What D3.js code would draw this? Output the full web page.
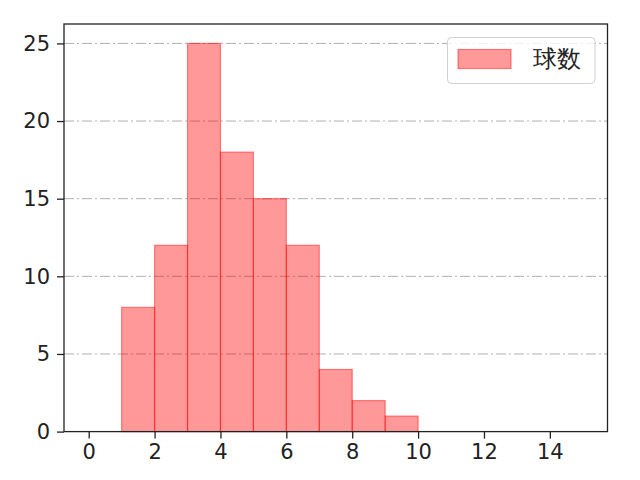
<!DOCTYPE html>
<html><head><meta charset="utf-8">
<script src="https://cdn.jsdelivr.net/npm/d3@7"></script>
<style>body{margin:0;background:#fff}svg{display:block}text{font-family:"DejaVu Sans",sans-serif}</style>
</head><body><svg id="c" width="640" height="480"></svg>
<script>
const binStarts = [1,2,3,4,5,6,7,8,9];
const binEnds   = [2,3,4,5,6,7,8,9,10];
const counts    = [8,12,25,18,15,12,4,2,1];
const xTicks = [0,2,4,6,8,10,12,14];
const yTicks = [0,5,10,15,20,25];
const seriesName = "球数";

const svg = d3.select("#c");
const L=64, R=607.5, T=24, B=431.6;
const x = d3.scaleLinear().domain([-0.75,15.75]).range([L,R]);
const y = d3.scaleLinear().domain([0,26.25]).range([B,T]);
const fs = 21;

// grid
svg.append("g").selectAll("line").data(yTicks.filter(d=>d>0)).join("line")
  .attr("x1",L).attr("x2",R).attr("y1",d=>y(d)).attr("y2",d=>y(d))
  .attr("stroke","#b0b0b0").attr("stroke-width",1).attr("stroke-dasharray","10,3,2,3");

// bars
svg.append("g").selectAll("rect").data(counts).join("rect")
  .attr("x",(d,i)=>x(binStarts[i])).attr("width",(d,i)=>x(binEnds[i])-x(binStarts[i]))
  .attr("y",d=>y(d)).attr("height",d=>y(0)-y(d))
  .attr("fill","rgba(255,0,0,0.4)").attr("stroke","rgba(255,0,0,0.45)").attr("stroke-width",1.2);

// axes
const xa = svg.append("g").attr("transform",`translate(0,${B})`)
  .call(d3.axisBottom(x).tickValues(xTicks).tickSize(7).tickPadding(5).tickFormat(d3.format("d")));
const ya = svg.append("g").attr("transform",`translate(${L},0)`)
  .call(d3.axisLeft(y).tickValues(yTicks).tickSize(7).tickPadding(7).tickFormat(d3.format("d")));
[xa,ya].forEach(a=>{a.select(".domain").remove();
  a.selectAll("line").attr("stroke","#222").attr("stroke-width",1.3);
  a.selectAll("text").attr("font-size",fs).attr("fill","#222").attr("font-family",'"DejaVu Sans",sans-serif');});

// frame
svg.append("rect").attr("x",L).attr("y",T).attr("width",R-L).attr("height",B-T)
  .attr("fill","none").attr("stroke","#222").attr("stroke-width",1.3);

// legend
const lg = svg.append("g");
lg.append("rect").attr("x",447.5).attr("y",37.5).attr("width",147.5).attr("height",46)
  .attr("rx",4).attr("fill","rgba(255,255,255,0.8)").attr("stroke","#d0d0d0").attr("stroke-width",1);
lg.append("rect").attr("x",458).attr("y",49.5).attr("width",53).attr("height",19)
  .attr("fill","rgba(255,0,0,0.4)").attr("stroke","rgba(255,0,0,0.45)").attr("stroke-width",1.2);
lg.append("text").attr("x",533).attr("y",59).attr("dy","0.35em").attr("font-size",23.5)
  .attr("font-family",'"Noto Sans CJK JP",sans-serif')
  .attr("fill","#222").text(seriesName);
</script></body></html>
